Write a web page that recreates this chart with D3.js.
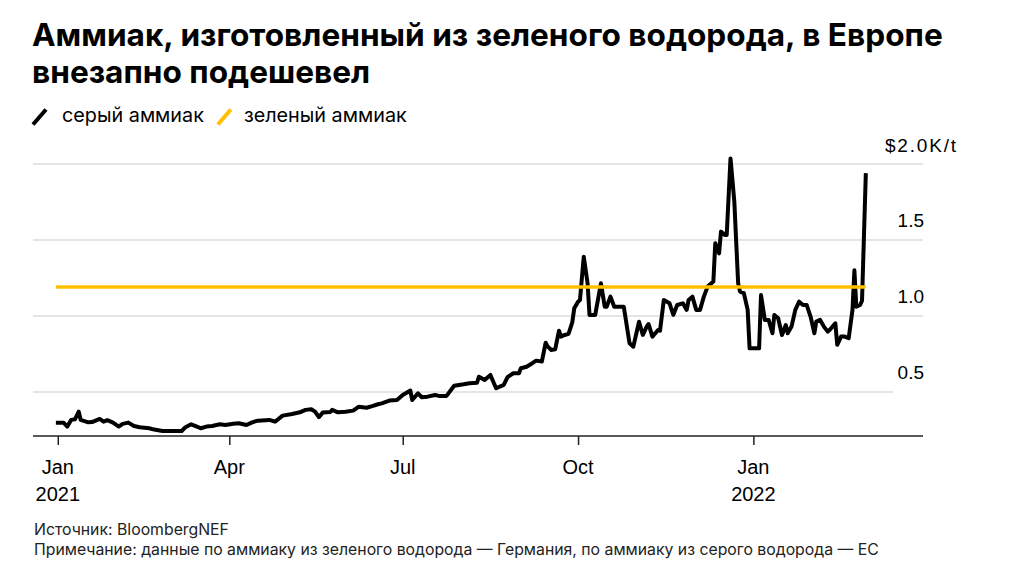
<!DOCTYPE html>
<html>
<head>
<meta charset="utf-8">
<script src="https://cdn.jsdelivr.net/npm/d3@7"></script>
<style>
  body { margin: 0; background: #fff; }
  svg { display: block; }
</style>
</head>
<body>
<div id="chart"></div>
<script>
// grey ammonia price, $K/t
var greyAmmonia = [
  ["2020-12-31",0.298],["2021-01-04",0.298],["2021-01-06",0.272],["2021-01-08",0.316],
  ["2021-01-10",0.32],["2021-01-12",0.37],["2021-01-13",0.316],["2021-01-17",0.30],
  ["2021-01-19",0.302],["2021-01-23",0.322],["2021-01-25",0.304],["2021-01-27",0.314],
  ["2021-01-30",0.298],["2021-02-02",0.272],["2021-02-04",0.29],["2021-02-07",0.298],
  ["2021-02-10",0.276],["2021-02-13",0.268],["2021-02-18",0.261],["2021-02-20",0.254],
  ["2021-02-22",0.25],["2021-02-25",0.243],["2021-03-02",0.243],["2021-03-07",0.243],
  ["2021-03-09",0.268],["2021-03-12",0.287],["2021-03-15",0.272],["2021-03-17",0.261],
  ["2021-03-20",0.272],["2021-03-23",0.276],["2021-03-27",0.287],["2021-03-30",0.282],
  ["2021-04-03",0.29],["2021-04-06",0.294],["2021-04-10",0.282],["2021-04-13",0.30],
  ["2021-04-16",0.311],["2021-04-22",0.316],["2021-04-25",0.304],["2021-04-29",0.344],
  ["2021-05-04",0.355],["2021-05-08",0.366],["2021-05-11",0.382],["2021-05-14",0.386],
  ["2021-05-16",0.37],["2021-05-18",0.334],["2021-05-20",0.364],["2021-05-24",0.368],
  ["2021-05-25",0.382],["2021-05-28",0.366],["2021-06-01",0.37],["2021-06-05",0.377],
  ["2021-06-08",0.403],["2021-06-12",0.396],["2021-06-15",0.407],["2021-06-18",0.419],
  ["2021-06-20",0.425],["2021-06-24",0.443],["2021-06-28",0.447],["2021-07-01",0.48],
  ["2021-07-05",0.509],["2021-07-06",0.447],["2021-07-09",0.491],["2021-07-11",0.465],
  ["2021-07-14",0.469],["2021-07-18",0.48],["2021-07-20",0.474],["2021-07-24",0.474],
  ["2021-07-28",0.541],["2021-08-02",0.55],["2021-08-05",0.557],["2021-08-09",0.561],
  ["2021-08-10",0.60],["2021-08-13",0.579],["2021-08-16",0.612],["2021-08-19",0.524],
  ["2021-08-23",0.546],["2021-08-25",0.597],["2021-08-28",0.623],["2021-08-31",0.623],
  ["2021-09-01",0.656],["2021-09-04",0.666],["2021-09-07",0.689],["2021-09-09",0.706],
  ["2021-09-12",0.70],["2021-09-14",0.824],["2021-09-15",0.80],["2021-09-17",0.776],
  ["2021-09-19",0.78],["2021-09-21",0.903],["2021-09-22",0.864],["2021-09-24",0.875],
  ["2021-09-26",0.882],["2021-09-28",0.96],["2021-09-29",1.05],["2021-10-01",1.094],
  ["2021-10-02",1.105],["2021-10-04",1.39],["2021-10-06",1.215],["2021-10-07",1.007],
  ["2021-10-10",1.007],["2021-10-13",1.215],["2021-10-15",1.061],["2021-10-16",1.061],
  ["2021-10-18",1.127],["2021-10-20",1.061],["2021-10-25",1.061],["2021-10-28",0.82],
  ["2021-10-30",0.798],["2021-11-02",0.962],["2021-11-04",0.875],["2021-11-06",0.93],
  ["2021-11-07",0.947],["2021-11-09",0.864],["2021-11-12",0.908],["2021-11-13",0.903],
  ["2021-11-15",1.105],["2021-11-18",1.083],["2021-11-20",1.007],["2021-11-22",1.072],
  ["2021-11-25",1.083],["2021-11-27",1.04],["2021-11-28",1.105],["2021-11-30",1.127],
  ["2021-12-02",1.04],["2021-12-04",1.04],["2021-12-06",1.127],["2021-12-08",1.193],
  ["2021-12-11",1.226],["2021-12-12",1.478],["2021-12-14",1.412],["2021-12-15",1.555],
  ["2021-12-17",1.533],["2021-12-18",1.533],["2021-12-20",2.037],["2021-12-22",1.752],
  ["2021-12-24",1.215],["2021-12-25",1.16],["2021-12-27",1.15],["2021-12-29",1.04],
  ["2021-12-30",0.787],["2022-01-02",0.787],["2022-01-04",0.787],["2022-01-05",1.138],
  ["2022-01-07",0.974],["2022-01-09",0.974],["2022-01-11",0.886],["2022-01-12",1.007],
  ["2022-01-14",0.985],["2022-01-16",0.875],["2022-01-18",0.94],["2022-01-19",0.886],
  ["2022-01-21",0.93],["2022-01-23",1.04],["2022-01-25",1.094],["2022-01-27",1.072],
  ["2022-01-29",1.072],["2022-01-31",0.996],["2022-02-02",0.886],["2022-02-03",0.963],
  ["2022-02-05",0.974],["2022-02-07",0.93],["2022-02-09",0.897],["2022-02-10",0.908],
  ["2022-02-13",0.952],["2022-02-14",0.81],["2022-02-16",0.864],["2022-02-18",0.864],
  ["2022-02-20",0.853],["2022-02-22",1.04],["2022-02-23",1.30],["2022-02-24",1.061],
  ["2022-02-26",1.072],["2022-02-27",1.10],["2022-03-01",1.94]
];

// green ammonia (Germany), flat
var greenAmmonia = [["2020-12-31",1.19],["2022-03-01",1.19]];

var yTicks = [0.5, 1.0, 1.5, 2.0];
var xTicks = ["2021-01-01","2021-04-01","2021-07-01","2021-10-01","2022-01-01"];
var xTickLabels = [["Jan","2021"],["Apr"],["Jul"],["Oct"],["Jan","2022"]];
var legendItems = [
  { label: "серый аммиак", color: "#000000" },
  { label: "зеленый аммиак", color: "#ffc000" }
];

var parse = d3.timeParse("%Y-%m-%d");

var width = 1012, height = 577;
var plotLeft = 33, plotRight = 923, plotTop = 164, plotBottom = 436;

var svg = d3.select("#chart")
            .append("svg")
            .attr("width", width)
            .attr("height", height);

var x = d3.scaleTime()
          .domain([parse("2020-12-19"), parse("2022-03-31")])
          .range([plotLeft, plotRight]);

var y = d3.scaleLinear()
          .domain([0.21, 2.0])
          .range([plotBottom, plotTop]);

// title
var title = svg.append("text")
   .attr("font-family", "Inter, sans-serif")
   .attr("font-weight", 700)
   .attr("font-size", "31.6px")
   .attr("fill", "#000");
title.append("tspan").attr("x", 32).attr("y", 46)
   .text("Аммиак, изготовленный из зеленого водорода, в Европе");
title.append("tspan").attr("x", 32).attr("y", 83)
   .text("внезапно подешевел");

// legend
var lx = 32;
legendItems.forEach(function(d, i) {
  svg.append("line")
     .attr("x1", lx + 1).attr("y1", 124.5)
     .attr("x2", lx + 14).attr("y2", 109.5)
     .attr("stroke", d.color)
     .attr("stroke-width", 4);
  var off = i === 0 ? 30 : 27;
  var t = svg.append("text")
     .attr("x", lx + off)
     .attr("y", 121.5)
     .attr("font-family", "Inter, sans-serif")
     .attr("font-size", "19.8px")
     .attr("fill", "#000")
     .text(d.label);
  lx = lx + off + t.node().getComputedTextLength() + 13;
});

// gridlines
svg.selectAll("line.grid")
   .data(yTicks)
   .enter()
   .append("line")
   .attr("class", "grid")
   .attr("x1", plotLeft)
   .attr("x2", function(d) { return d === 0.5 ? 893 : plotRight; })
   .attr("y1", function(d) { return y(d); })
   .attr("y2", function(d) { return y(d); })
   .attr("stroke", "#dcdcdc")
   .attr("stroke-width", 1.5);

// y labels, sitting above their gridline
svg.selectAll("text.ylab")
   .data(yTicks.filter(function(d) { return d < 2; }))
   .enter()
   .append("text")
   .attr("class", "ylab")
   .attr("x", 924)
   .attr("y", function(d) { return y(d) - 12.5; })
   .attr("text-anchor", "end")
   .attr("font-family", "'Liberation Sans', Arial, sans-serif")
   .attr("font-size", "19px")
   .attr("fill", "#000")
   .text(function(d) { return d.toFixed(1); });

svg.append("text")
   .attr("x", 885)
   .attr("y", y(2.0) - 12.5)
   .attr("font-family", "'Liberation Sans', Arial, sans-serif")
   .attr("font-size", "19px")
   .attr("letter-spacing", "1.8px")
   .attr("fill", "#000")
   .text("$" + d3.format(".1f")(2.0) + "K/t");

// x axis
var xAxis = d3.axisBottom(x)
   .tickValues(xTicks.map(parse))
   .tickSize(9)
   .tickFormat("");

var gx = svg.append("g")
   .attr("transform", "translate(0," + plotBottom + ")")
   .call(xAxis);
gx.select(".domain").attr("stroke", "#222").attr("stroke-width", 1.5)
   .attr("d", "M" + plotLeft + ",0H" + plotRight);
gx.selectAll(".tick line").attr("stroke", "#222").attr("stroke-width", 1.5);

svg.selectAll("text.xlab")
   .data(xTicks)
   .enter()
   .append("text")
   .attr("class", "xlab")
   .attr("text-anchor", "middle")
   .attr("font-family", "'Liberation Sans', Arial, sans-serif")
   .attr("font-size", "20px")
   .attr("fill", "#000")
   .each(function(d, i) {
     var t = d3.select(this);
     xTickLabels[i].forEach(function(s, j) {
       t.append("tspan")
        .attr("x", x(parse(d)))
        .attr("y", 474 + j * 27)
        .text(s);
     });
   });

// lines
var line = d3.line()
   .x(function(d) { return x(parse(d[0])); })
   .y(function(d) { return y(d[1]); });

svg.append("path")
   .datum(greyAmmonia)
   .attr("d", line)
   .attr("fill", "none")
   .attr("stroke", "#000")
   .attr("stroke-width", 4)
   .attr("stroke-linejoin", "round");

svg.append("path")
   .datum(greenAmmonia)
   .attr("d", line)
   .attr("fill", "none")
   .attr("stroke", "#ffc000")
   .attr("stroke-width", 3.5);

// footer
svg.append("text")
   .attr("x", 34).attr("y", 535)
   .attr("font-family", "Inter, sans-serif")
   .attr("font-size", "15.8px")
   .attr("fill", "#222")
   .text("Источник: BloombergNEF");
svg.append("text")
   .attr("x", 34).attr("y", 555)
   .attr("font-family", "Inter, sans-serif")
   .attr("font-size", "15.8px")
   .attr("fill", "#222")
   .text("Примечание: данные по аммиаку из зеленого водорода — Германия, по аммиаку из серого водорода — ЕС");
</script>
</body>
</html>
